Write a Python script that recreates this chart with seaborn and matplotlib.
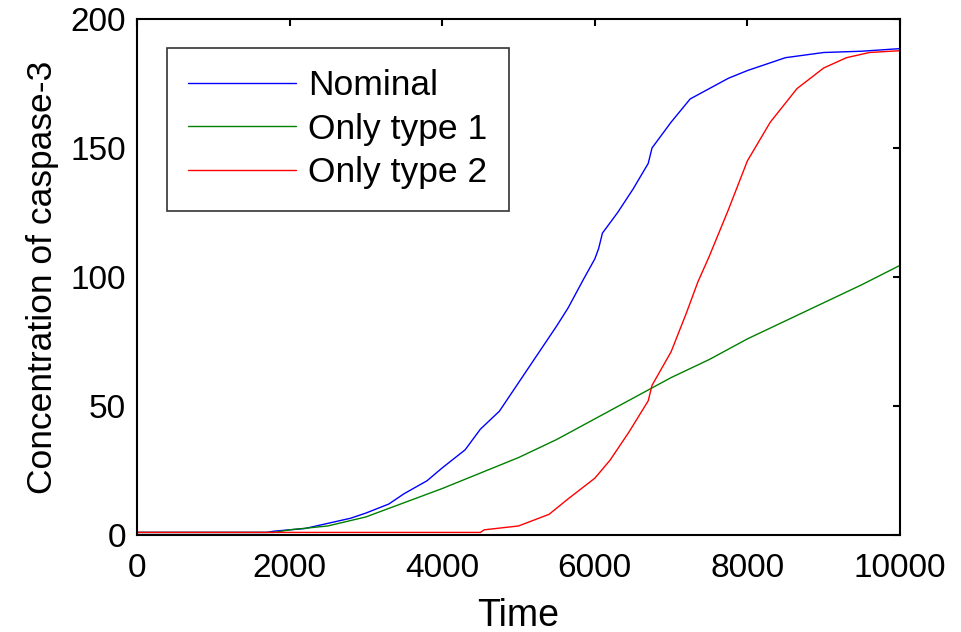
import matplotlib
matplotlib.use("Agg")
import matplotlib.pyplot as plt
import seaborn as sns
import pandas as pd

# Data
nominal_t = [0, 1700, 1800, 2000, 2200, 2500, 2800, 3000, 3300, 3500, 3800, 4000, 4300, 4500,
             4750, 5000, 5250, 5500, 5650, 5850, 6000, 6050, 6100, 6300, 6500, 6700, 6750,
             7000, 7250, 7500, 7750, 8000, 8250, 8500, 8750, 9000, 9500, 10000]
nominal_c = [1, 1, 1.5, 2, 2.5, 4.5, 6.5, 8.5, 12, 16, 21, 26, 33, 41,
             48, 59, 70, 81, 88, 99, 107, 111, 117, 125, 134, 144, 150,
             160, 169, 173, 177, 180, 182.5, 185, 186, 187, 187.5, 188.5]

type1_t = [0, 1800, 2000, 2500, 3000, 3500, 4000, 4500, 5000, 5500, 6000, 6500, 7000, 7500,
           8000, 8500, 9000, 9500, 10000]
type1_c = [1, 1, 2, 3.5, 7, 12.5, 18, 24, 30, 37, 45, 53, 61, 68,
           76, 83, 90, 97, 104.5]

type2_t = [0, 4500, 4550, 5000, 5400, 5650, 6000, 6200, 6450, 6700, 6750, 7000, 7200, 7350,
           7500, 7750, 8000, 8300, 8650, 9000, 9300, 9600, 10000]
type2_c = [1, 1, 2, 3.5, 8, 14, 22, 29, 40, 52, 58, 71, 86, 98,
           108, 126, 145, 160, 173, 181, 185, 187, 187.7]

labels = ["Nominal", "Only type 1", "Only type 2"]
colors = ["#0000ff", "#008000", "#ff0000"]

df = pd.concat([
    pd.DataFrame({"Time": nominal_t, "conc": nominal_c, "case": labels[0]}),
    pd.DataFrame({"Time": type1_t, "conc": type1_c, "case": labels[1]}),
    pd.DataFrame({"Time": type2_t, "conc": type2_c, "case": labels[2]}),
])

sns.set_style("white")
plt.rcParams["font.family"] = ["Liberation Sans", "DejaVu Sans"]
plt.rcParams.update({"text.color": "black", "axes.labelcolor": "black",
                     "xtick.color": "black", "ytick.color": "black"})

fig = plt.figure(figsize=(9.61, 6.32), dpi=100)
ax = fig.add_axes([0.1426, 0.1535, 0.7939, 0.8165])

sns.lineplot(data=df, x="Time", y="conc", hue="case", palette=colors,
             linewidth=1, ax=ax, estimator=None, sort=False)

ax.set_xlim(0, 10000)
ax.set_ylim(0, 200)
ax.set_xticks([0, 2000, 4000, 6000, 8000, 10000])
ax.set_yticks([0, 50, 100, 150, 200])
ax.tick_params(direction="in", length=5, width=1.5, top=True, right=True,
               labelsize=24, color="black")
ax.tick_params(axis="x", pad=13)
ax.tick_params(axis="y", pad=8)
for s in ax.spines.values():
    s.set_color("black")
    s.set_linewidth(1.5)

ax.set_xlabel("Time", fontsize=27, labelpad=10)
ax.set_ylabel("Concentration of caspase-3", fontsize=25.5, labelpad=8)

leg = ax.legend(loc="upper left", bbox_to_anchor=(0.039, 0.944), fontsize=25.5,
                frameon=True, fancybox=False, edgecolor="black",
                handlelength=3.05, handletextpad=0.34, labelspacing=0.3,
                borderpad=0.6, borderaxespad=0)
leg.get_frame().set_linewidth(1.2)
leg.set_title(None)

plt.savefig("out.png", dpi=100)
